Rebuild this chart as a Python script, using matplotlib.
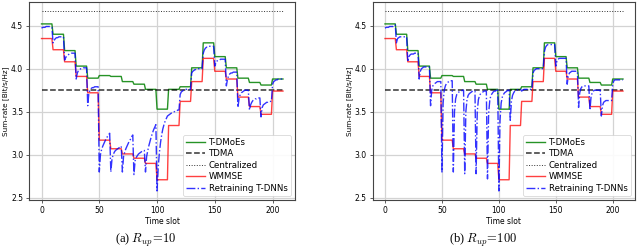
import numpy as np
import matplotlib
matplotlib.use("Agg")
import matplotlib.pyplot as plt

plt.rcParams['mathtext.fontset'] = 'cm'

# block-wise values (21 blocks of 10 time slots)
tdmoe_blocks = [4.52, 4.40, 4.21, 4.03, 3.89, 3.92, 3.91, 3.85, 3.82, 3.76, 3.53,
                3.76, 3.79, 4.01, 4.30, 4.14, 4.01, 3.89, 3.84, 3.81, 3.88]
wmmse_blocks = [4.35, 4.22, 4.08, 3.91, 3.72, 3.17, 3.07, 3.01, 2.96, 2.90, 2.71,
                3.34, 3.62, 3.85, 4.12, 3.97, 3.88, 3.67, 3.56, 3.47, 3.74]
tdma_value = 3.75
centralized_value = 4.67

retrain_a = [
    [4.47, 4.48, 4.48, 4.48, 4.49, 4.49, 4.49, 4.49, 4.49, 4.48],
    [4.30, 4.33, 4.35, 4.36, 4.36, 4.37, 4.37, 4.37, 4.37, 4.37],
    [4.10, 4.13, 4.15, 4.16, 4.17, 4.17, 4.18, 4.18, 4.18, 4.18],
    [3.88, 3.95, 3.98, 3.99, 4.00, 4.00, 4.01, 4.01, 4.01, 4.01],
    [3.57, 3.72, 3.75, 3.77, 3.78, 3.78, 3.79, 3.79, 3.79, 3.79],
    [2.80, 3.00, 3.06, 3.10, 3.13, 3.16, 3.19, 3.21, 3.23, 3.25],
    [2.80, 2.95, 3.00, 3.03, 3.05, 3.06, 3.07, 3.08, 3.09, 3.10],
    [2.80, 2.98, 3.03, 3.07, 3.10, 3.13, 3.16, 3.18, 3.21, 3.23],
    [2.77, 2.93, 2.97, 2.99, 3.01, 3.02, 3.03, 3.04, 3.05, 3.05],
    [2.80, 2.98, 3.05, 3.11, 3.16, 3.21, 3.25, 3.29, 3.32, 3.35],
    [2.58, 2.85, 3.02, 3.14, 3.23, 3.30, 3.35, 3.39, 3.42, 3.45],
    [3.46, 3.47, 3.48, 3.49, 3.50, 3.50, 3.51, 3.51, 3.52, 3.52],
    [3.70, 3.73, 3.74, 3.75, 3.75, 3.76, 3.76, 3.76, 3.76, 3.76],
    [3.95, 3.97, 3.98, 3.99, 3.99, 4.00, 4.00, 4.00, 4.00, 4.00],
    [4.18, 4.22, 4.24, 4.25, 4.25, 4.26, 4.26, 4.26, 4.26, 4.26],
    [4.03, 4.07, 4.09, 4.10, 4.10, 4.11, 4.11, 4.11, 4.11, 4.11],
    [3.80, 3.88, 3.92, 3.94, 3.95, 3.95, 3.96, 3.96, 3.96, 3.96],
    [3.55, 3.65, 3.70, 3.72, 3.73, 3.74, 3.75, 3.75, 3.75, 3.75],
    [3.52, 3.58, 3.61, 3.63, 3.64, 3.65, 3.65, 3.66, 3.66, 3.66],
    [3.44, 3.55, 3.58, 3.59, 3.60, 3.61, 3.61, 3.62, 3.62, 3.62],
    [3.82, 3.85, 3.86, 3.87, 3.87, 3.88, 3.88, 3.88, 3.88, 3.88],
]

retrain_b = [
    [4.47, 4.48, 4.48, 4.48, 4.49, 4.49, 4.49, 4.49, 4.50, 4.51],
    [4.30, 4.35, 4.36, 4.37, 4.37, 4.37, 4.37, 4.37, 4.37, 4.37],
    [4.08, 4.14, 4.16, 4.17, 4.17, 4.17, 4.18, 4.18, 4.18, 4.18],
    [3.88, 3.97, 4.00, 4.01, 4.02, 4.02, 4.02, 4.02, 4.02, 4.02],
    [3.57, 3.75, 3.80, 3.82, 3.83, 3.84, 3.85, 3.85, 3.85, 3.85],
    [2.80, 3.60, 3.75, 3.80, 3.83, 3.84, 3.85, 3.86, 3.86, 3.86],
    [2.80, 3.50, 3.65, 3.70, 3.72, 3.73, 3.74, 3.74, 3.75, 3.75],
    [2.78, 3.50, 3.64, 3.69, 3.71, 3.72, 3.73, 3.74, 3.74, 3.74],
    [2.78, 3.50, 3.64, 3.69, 3.71, 3.72, 3.73, 3.74, 3.74, 3.74],
    [2.72, 3.48, 3.63, 3.69, 3.71, 3.73, 3.74, 3.74, 3.75, 3.75],
    [2.58, 3.40, 3.60, 3.67, 3.70, 3.72, 3.73, 3.74, 3.75, 3.75],
    [3.40, 3.62, 3.69, 3.72, 3.74, 3.75, 3.75, 3.76, 3.76, 3.76],
    [3.74, 3.75, 3.76, 3.76, 3.76, 3.76, 3.76, 3.76, 3.76, 3.76],
    [3.95, 3.98, 3.99, 4.00, 4.00, 4.00, 4.00, 4.00, 4.00, 4.00],
    [4.20, 4.25, 4.27, 4.28, 4.28, 4.28, 4.28, 4.28, 4.28, 4.28],
    [4.03, 4.09, 4.11, 4.12, 4.12, 4.12, 4.12, 4.12, 4.12, 4.12],
    [3.82, 3.92, 3.95, 3.96, 3.97, 3.97, 3.97, 3.97, 3.97, 3.97],
    [3.55, 3.72, 3.77, 3.79, 3.80, 3.80, 3.80, 3.80, 3.80, 3.80],
    [3.52, 3.68, 3.72, 3.74, 3.75, 3.75, 3.75, 3.75, 3.75, 3.75],
    [3.45, 3.57, 3.61, 3.62, 3.63, 3.63, 3.63, 3.63, 3.63, 3.63],
    [3.82, 3.86, 3.87, 3.87, 3.87, 3.87, 3.87, 3.87, 3.87, 3.87],
]

block_len = 10
n_slots = len(tdmoe_blocks) * block_len
t = np.arange(n_slots)
tdmoe = np.repeat(tdmoe_blocks, block_len)
wmmse = np.repeat(wmmse_blocks, block_len)

captions = [r"(a) $R_{up}\!=\!10$", r"(b) $R_{up}\!=\!100$"]
retrains = [np.concatenate(retrain_a), np.concatenate(retrain_b)]

fig = plt.figure(figsize=(6.4, 2.49), dpi=100)
axes_pos = [[0.046, 0.197, 0.415, 0.795], [0.583, 0.197, 0.409, 0.795]]
caption_x = [0.228, 0.755]

fs = 5.5
for i in range(2):
    ax = fig.add_axes(axes_pos[i])
    ax.grid(True, color='#d3d3d3', linewidth=0.9)
    ax.set_axisbelow(True)
    ax.plot(t, tdmoe, color='green', lw=1.0, alpha=0.85, label='T-DMoEs')
    ax.plot(t, np.full(n_slots, tdma_value), color='black', ls='--', lw=1.1, alpha=0.8, label='TDMA')
    ax.plot(t, np.full(n_slots, centralized_value), color='black', ls=':', lw=0.7, alpha=0.8, label='Centralized')
    ax.plot(t, wmmse, color='red', lw=1.0, alpha=0.75, label='WMMSE')
    ax.plot(t, retrains[i], color='blue', ls='-.', lw=1.0, alpha=0.8, label='Retraining T-DNNs')
    ax.set_xticks([0, 50, 100, 150, 200])
    ax.set_yticks([2.5, 3.0, 3.5, 4.0, 4.5])
    ax.tick_params(labelsize=fs, length=2.5, width=0.6, pad=2.0, color='#444444')
    for s in ax.spines.values():
        s.set_color('#444444')
        s.set_linewidth(0.8)
    ax.set_xlabel('Time slot', fontsize=fs, labelpad=1.5)
    ax.set_ylabel('Sum-rate [Bit/s/Hz]', fontsize=5.2, labelpad=1.5)
    leg = ax.legend(loc='lower right', fontsize=6.2, handlelength=2.2, borderpad=0.35,
                    labelspacing=0.28, handletextpad=0.4, framealpha=0.9, borderaxespad=0.5)
    leg.get_frame().set_linewidth(0.5)
    fig.text(caption_x[i], 0.035, captions[i], ha='center', va='center',
             fontsize=9, family='Liberation Serif')

fig.savefig('out.png', dpi=100)
